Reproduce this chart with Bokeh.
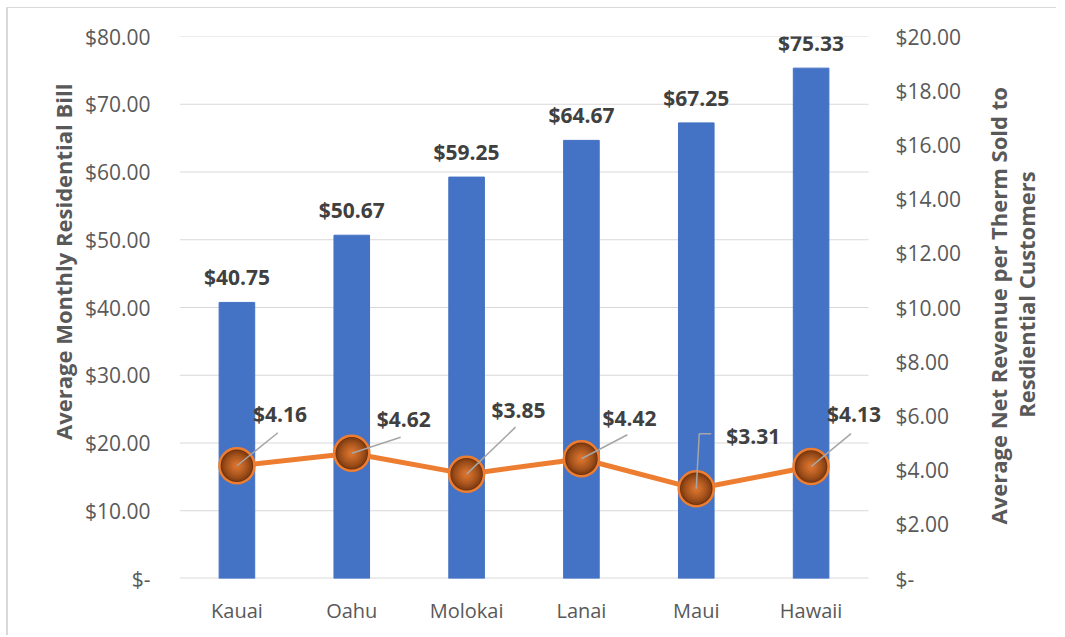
import math
from bokeh.plotting import figure
from bokeh.layouts import row
from bokeh.models import (Range1d, LinearAxis, FixedTicker, CustomJSTickFormatter,
                          ColumnDataSource)
from bokeh.core.properties import value
from bokeh.embed import file_html
from bokeh.resources import INLINE

# ---------------- data ----------------
islands = ["Kauai", "Oahu", "Molokai", "Lanai", "Maui", "Hawaii"]
monthly_bill = [40.75, 50.67, 59.25, 64.67, 67.25, 75.33]
net_rev_per_therm = [4.16, 4.62, 3.85, 4.42, 3.31, 4.13]
left_ticks = [0, 10, 20, 30, 40, 50, 60, 70, 80]
right_ticks = [0, 2, 4, 6, 8, 10, 12, 14, 16, 18, 20]
left_title = "Average Monthly Residential Bill"
right_title_lines = ["Average Net Revenue per Therm Sold to", "Resdiential Customers"]

# ---------------- styles ----------------
FONT = "Open Sans"
H = 628
W0, W, W2 = 75, 885, 90            # left title panel, chart, right title panel
CAT_PX = 115                        # px per category
EXTRA_PX = 16                       # frame overhang right of last category
FL, FT, FB = 97, 28, 570            # frame edges in chart px
FR = FL + CAT_PX * len(islands) + EXTRA_PX
BAR_C = "#4472C4"
LINE_C = "#ED7D31"
TXT_C = "#595959"
LBL_C = "#404040"
GRID_C = "#D9D9D9"
lab_off = [(43, 52), (52, 34), (52, 64), (48, 41), (57, 53), (43, 53)]
leader_off = [[(0, 0), (41, 33)], [(0, 0), (49, 16)], [(0, 0), (49, 47)],
              [(0, 0), (46, 24)], [(0, 0), (3, 55), (15, 55)], [(0, 0), (40, 33)]]

ncat = len(islands)
xpos = [i + 0.5 for i in range(ncat)]

p = figure(width=W, height=H, output_backend="svg", toolbar_location=None,
           x_range=Range1d(0, ncat + EXTRA_PX / CAT_PX), y_range=Range1d(0, 80),
           min_border_left=FL, min_border_right=W - FR,
           min_border_top=FT, min_border_bottom=H - FB)
p.extra_y_ranges = {"right": Range1d(0, 20)}
p.outline_line_color = None
p.background_fill_color = "white"
p.border_fill_color = "white"
p.grid.grid_line_color = None

# axes
fmt = CustomJSTickFormatter(code='return tick == 0 ? "$-" : "$" + tick.toFixed(2);')
ly = p.yaxis[0]
ly.ticker = FixedTicker(ticks=left_ticks)
ly.formatter = fmt
ly.major_label_standoff = 23

ry = LinearAxis(y_range_name="right", ticker=FixedTicker(ticks=right_ticks), formatter=fmt)
p.add_layout(ry, "right")
ry.major_label_standoff = 5

for ax in (ly, ry):
    ax.axis_line_color = None
    ax.major_tick_line_color = None
    ax.minor_tick_line_color = None
    ax.major_label_text_font = FONT
    ax.major_label_text_font_size = "21px"
    ax.major_label_text_color = TXT_C

xa = p.xaxis[0]
xa.ticker = FixedTicker(ticks=xpos)
xa.formatter = CustomJSTickFormatter(args=dict(names=islands),
                                     code="return names[Math.floor(tick)];")
xa.axis_line_color = None
xa.major_tick_line_color = None
xa.minor_tick_line_color = None
xa.major_label_text_font = FONT
xa.major_label_text_font_size = "20px"
xa.major_label_text_color = TXT_C
xa.major_label_standoff = 12

# gridlines (only across the category area) and baseline
p.segment(x0=[0] * len(left_ticks[1:]), x1=[ncat] * len(left_ticks[1:]),
          y0=left_ticks[1:], y1=left_ticks[1:], line_color=GRID_C, line_width=1)
p.segment(x0=[0], x1=[ncat], y0=[0], y1=[0], line_color=GRID_C, line_width=2)

# bars
bsrc = ColumnDataSource(dict(x=xpos, top=monthly_bill,
                             lab=["$%.2f" % v for v in monthly_bill]))
p.vbar(x="x", top="top", width=0.31, source=bsrc, color=BAR_C)
p.text(x="x", y="top", text="lab", source=bsrc, y_offset=-25,
       text_align="center", text_baseline="middle",
       text_font=value(FONT), text_font_style="bold",
       text_font_size="21px", text_color=LBL_C)

# line
lsrc = ColumnDataSource(dict(x=xpos, y=net_rev_per_therm))
p.line(x="x", y="y", source=lsrc, y_range_name="right", line_color=LINE_C, line_width=5)

# gradient-like markers (dark edge -> orange centre)
edge, centre = (112, 50, 12), (212, 112, 44)
n = 9
for i in range(n):
    t = i / (n - 1)
    col = "#%02x%02x%02x" % tuple(int(edge[k] + (centre[k] - edge[k]) * t ** 0.7) for k in range(3))
    size = 34 - i * 3.4
    p.scatter(x="x", y="y", source=lsrc, y_range_name="right", size=size,
              fill_color=col, line_color=None)
p.scatter(x="x", y="y", source=lsrc, y_range_name="right", size=35,
          fill_color=None, line_color=LINE_C, line_width=2.5)

# leader lines (px offsets converted through the frame's scale)
px_y = (FB - FT) / 20.0
xs, ys = [], []
for i, pts in enumerate(leader_off):
    xs.append([xpos[i] + dx / CAT_PX for dx, dy in pts])
    ys.append([net_rev_per_therm[i] + dy / px_y for dx, dy in pts])
p.multi_line(xs=xs, ys=ys, y_range_name="right", line_color="#A6A6A6", line_width=1.5)

# line data labels
lab_src = ColumnDataSource(dict(x=xpos, y=net_rev_per_therm,
                                lab=["$%.2f" % v for v in net_rev_per_therm],
                                xo=[o[0] for o in lab_off], yo=[-o[1] for o in lab_off]))
p.text(x="x", y="y", text="lab", source=lab_src, y_range_name="right",
       x_offset="xo", y_offset="yo", text_align="center", text_baseline="middle",
       text_font=value(FONT), text_font_style="bold",
       text_font_size="21px", text_color=LBL_C)


def side_panel(width):
    f = figure(width=width, height=H, output_backend="svg", toolbar_location=None,
               x_range=Range1d(0, width), y_range=Range1d(0, H),
               min_border=0, min_border_left=0, min_border_right=0,
               min_border_top=0, min_border_bottom=0)
    f.axis.visible = False
    f.grid.grid_line_color = None
    f.outline_line_color = None
    return f


# left title panel
p0 = side_panel(W0)
p0.text(x=[54], y=[H - 261], text=[left_title], angle=math.pi / 2,
        text_align="center", text_baseline="middle", text_font=value(FONT),
        text_font_style="bold", text_font_size="22px", text_color=TXT_C)

# right title panel
p2 = side_panel(W2)
p2.text(x=[31, 59], y=[H - 312, H - 299], text=right_title_lines, angle=math.pi / 2,
        text_align="center", text_baseline="middle", text_font=value(FONT),
        text_font_style="bold", text_font_size="22px", text_color=TXT_C)

p0.styles = {"margin-left": "6px", "margin-top": "7px",
             "border-left": "2px solid #d9d9d9", "border-top": "1px solid #d9d9d9"}
p.styles = {"margin-top": "7px", "border-top": "1px solid #d9d9d9"}
p2.styles = {"margin-top": "7px", "border-top": "1px solid #d9d9d9"}

layout = row(p0, p, p2)
open("out.html", "w").write(file_html(layout, INLINE))
